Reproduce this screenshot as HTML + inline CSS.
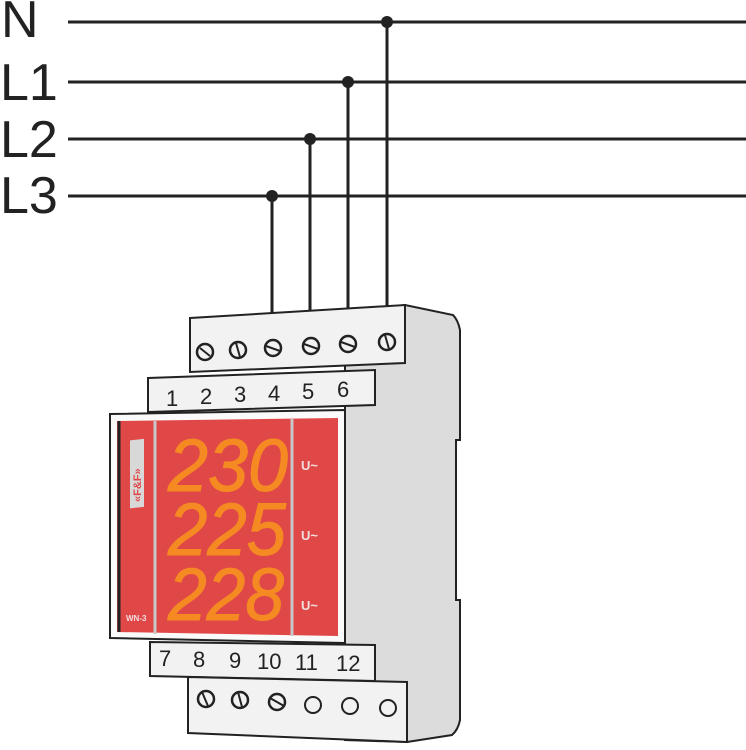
<!DOCTYPE html>
<html><head><meta charset="utf-8"><style>
html,body{margin:0;padding:0;background:#fff;width:746px;height:750px;overflow:hidden}
svg{display:block}
text{font-family:"Liberation Sans",sans-serif}
</style></head><body>
<svg width="746" height="750" viewBox="0 0 746 750" xmlns="http://www.w3.org/2000/svg">
<g fill="#222" font-size="52">
<text x="1" y="37">N</text>
<text x="0" y="100">L1</text>
<text x="0" y="157">L2</text>
<text x="0" y="213">L3</text>
</g>
<g stroke="#222" stroke-width="3">
<line x1="68" y1="22" x2="746" y2="22"/>
<line x1="68" y1="82" x2="746" y2="82"/>
<line x1="68" y1="139" x2="746" y2="139"/>
<line x1="68" y1="196" x2="746" y2="196"/>
<line x1="387" y1="22" x2="387" y2="342"/>
<line x1="348" y1="82" x2="348" y2="343"/>
<line x1="310" y1="139" x2="310" y2="345"/>
<line x1="272" y1="196" x2="272" y2="347"/>
</g>
<g fill="#222">
<circle cx="387" cy="22" r="6"/><circle cx="348" cy="82" r="6"/>
<circle cx="310" cy="139" r="6"/><circle cx="272" cy="196" r="6"/>
</g>
<path d="M345,312 L405,305 L453,315 Q458,320 460,330 L460,440 L456,440 L456,600 L460,600 L460,720 Q458,730 452,735 L407,742 L345,740 Z" fill="#dcdcdc" stroke="#222" stroke-width="2"/>
<path d="M190,318 L405,305 L405,363 L190,372 Z" fill="#f2f2f2" stroke="#222" stroke-width="2"/>
<path d="M148,378 L375,370 L375,405 L148,412 Z" fill="#f2f2f2" stroke="#222" stroke-width="2"/>
<g font-size="22" fill="#222">
<text x="166" y="406">1</text><text x="200" y="404">2</text><text x="234" y="402">3</text>
<text x="268" y="401">4</text><text x="302" y="399">5</text><text x="337" y="397">6</text>
</g>
<g fill="#f2f2f2" stroke="#222" stroke-width="2.5">
<circle cx="205" cy="352" r="8"/><circle cx="238" cy="350" r="8"/><circle cx="273" cy="348" r="8"/>
<circle cx="311" cy="346" r="8"/><circle cx="348" cy="344" r="8"/><circle cx="387" cy="342" r="8"/>
</g>
<g stroke="#222" stroke-width="2">
<line x1="200" y1="348" x2="210" y2="356"/><line x1="236" y1="343" x2="240" y2="357"/>
<line x1="266" y1="346" x2="280" y2="351"/><line x1="304" y1="344" x2="318" y2="349"/>
<line x1="341" y1="342" x2="355" y2="347"/><line x1="385" y1="335" x2="389" y2="349"/>
</g>
<path d="M110,414 L345,410 L345,643 L110,638 Z" fill="#fafafa" stroke="#222" stroke-width="2"/>
<path d="M117,421 L338,418 L338,636 L117,632 Z" fill="#e04848"/>
<line x1="119" y1="421" x2="119" y2="632" stroke="#222" stroke-width="3"/>
<line x1="155" y1="421" x2="155" y2="634" stroke="#c8c8c8" stroke-width="3"/>
<line x1="292" y1="419" x2="292" y2="636" stroke="#c8c8c8" stroke-width="3"/>
<rect x="130" y="440" width="14" height="68" fill="#d8d8d8" transform="skewY(-6) translate(0,14)"/>
<text x="0" y="0" font-size="11" font-weight="bold" fill="#e04848" transform="translate(141,502) rotate(-90)">«F&amp;F»</text>
<g font-size="74" font-style="italic" fill="#f58a22" stroke="#f58a22" stroke-width="1">
<text x="168" y="491" textLength="120" lengthAdjust="spacingAndGlyphs">230</text>
<text x="168" y="555" textLength="118" lengthAdjust="spacingAndGlyphs">225</text>
<text x="168" y="620" textLength="116" lengthAdjust="spacingAndGlyphs">228</text>
</g>
<g font-size="13" fill="#f3dede" font-weight="bold">
<text x="301" y="470">U~</text><text x="301" y="540">U~</text><text x="301" y="610">U~</text>
</g>
<text x="126" y="621" font-size="8" fill="#f3dede" font-weight="bold">WN-3</text>
<path d="M150,642 L375,645 L375,681 L150,676 Z" fill="#f2f2f2" stroke="#222" stroke-width="2"/>
<g font-size="22" fill="#222">
<text x="159" y="666">7</text><text x="193" y="667">8</text><text x="229" y="668">9</text>
<text x="257" y="669">10</text><text x="295" y="670">11</text><text x="336" y="671">12</text>
</g>
<path d="M188,677 L407,682 L407,742 L188,733 Z" fill="#f2f2f2" stroke="#222" stroke-width="2"/>
<g fill="#f2f2f2" stroke="#222" stroke-width="2.5">
<circle cx="206" cy="699" r="8"/><circle cx="240" cy="700" r="8"/><circle cx="277" cy="702" r="8"/>
<circle cx="313" cy="705" r="8" stroke-width="2"/><circle cx="350" cy="706" r="8" stroke-width="2"/><circle cx="388" cy="708" r="8" stroke-width="2"/>
</g>
<g stroke="#222" stroke-width="2">
<line x1="202" y1="692" x2="208" y2="706"/><line x1="238" y1="692" x2="242" y2="707"/>
<line x1="270" y1="698" x2="284" y2="706"/>
</g>
</svg>
</body></html>
